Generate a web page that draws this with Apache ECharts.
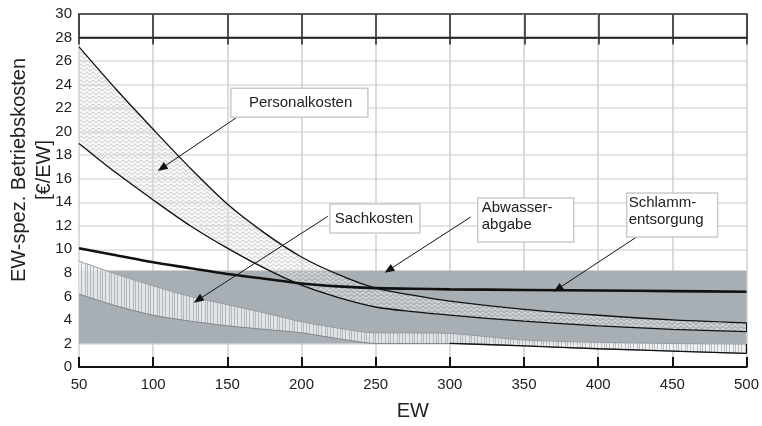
<!DOCTYPE html>
<html>
<head>
<meta charset="utf-8">
<script src="https://cdn.jsdelivr.net/npm/echarts@6/dist/echarts.min.js"></script>
<style>
html, body { margin: 0; padding: 0; background: #fff; }
#main { width: 762px; height: 426px; }
</style>
</head>
<body>
<div id="main"></div>
<script>
// EW (Einwohnerwerte) on the x axis
var ew = [50, 75, 100, 125, 150, 175, 200, 225, 250, 275, 300, 350, 400, 450, 500];
// Personalkosten band (upper / lower bound)
var personalHigh = [27.2, 23.6, 20.2, 16.9, 13.85, 11.4, 9.35, 7.85, 6.7, 6.1, 5.6, 4.9, 4.4, 4.0, 3.75];
var personalLow = [19.0, 16.5, 14.2, 12.0, 10.1, 8.4, 6.95, 5.9, 5.1, 4.7, 4.4, 3.9, 3.5, 3.2, 3.0];
// Schlammentsorgung
var schlamm = [10.1, 9.5, 8.9, 8.4, 7.9, 7.5, 7.1, 6.85, 6.7, 6.65, 6.6, 6.55, 6.5, 6.45, 6.4];
// Sachkosten band
var sachHigh = [9.0, 7.9, 6.9, 6.0, 5.3, 4.6, 3.85, 3.3, 2.9, 2.9, 2.85, 2.3, 2.1, 2.0, 1.95];
var sachLow = [6.2, 5.2, 4.4, 3.9, 3.5, 3.2, 2.9, 2.4, 2.0, 2.0, 2.0, 1.8, 1.55, 1.35, 1.15];
// Abwasserabgabe band
var abwasserEW = [50, 500];
var abwasserLow = [2.0, 2.0];
var abwasserHigh = [8.2, 8.2];
// axis ticks
var xTicks = { min: 50, max: 500, step: 50 };
var yTicks = { min: 0, max: 30, step: 2 };

// callouts (box corner and arrow in data units)
var notes = [
  { text: 'Personalkosten', box: [152.4, 23.7], w: 137, h: 29, from: [158.5, 21.4], to: [105.9, 16.9], pad: 18 },
  { text: 'Sachkosten', box: [219.1, 13.85], w: 90, h: 29, from: [217.7, 12.8], to: [130.2, 5.7], pad: 5 },
  { text: 'Abwasser-\nabgabe', box: [318.8, 14.36], w: 96, h: 44, from: [314.1, 12.75], to: [258.8, 8.24], pad: 4 },
  { text: 'Schlamm-\nentsorgung', box: [419.2, 14.79], w: 91, h: 44, from: [425.9, 11.05], to: [372.7, 6.63], pad: 2 }
];

var FONT = '"Liberation Sans", Arial, sans-serif';

function pairs(xs, ys) {
  return xs.map(function (x, i) { return [x, ys[i]]; });
}

// fill patterns
function herringbone() {
  var c = document.createElement('canvas');
  c.width = 12; c.height = 8;
  var g = c.getContext('2d');
  g.strokeStyle = '#d8d8d8';
  g.lineWidth = 1.3;
  g.beginPath();
  for (var y = -4; y < 12; y += 4) {
    g.moveTo(0, y + 3); g.lineTo(3, y); g.lineTo(6, y + 3); g.lineTo(9, y); g.lineTo(12, y + 3);
  }
  g.stroke();
  return c;
}
function stripes() {
  var c = document.createElement('canvas');
  c.width = 24; c.height = 4;
  var g = c.getContext('2d');
  g.fillStyle = 'rgba(236,238,240,0.85)';
  g.fillRect(0, 0, 24, 4);
  g.fillStyle = 'rgba(140,146,152,0.55)';
  [1, 4, 6, 9, 13, 15, 18, 21].forEach(function (x) { g.fillRect(x, 0, 1, 4); });
  return c;
}

// a filled band between two curves, drawn through the axis scales
function band(xs, hi, lo, fill, z) {
  return {
    type: 'custom', data: [0], z: z, silent: true, clip: true,
    renderItem: function (params, api) {
      var pts = [];
      xs.forEach(function (x, i) { pts.push(api.coord([x, hi[i]])); });
      for (var i = xs.length - 1; i >= 0; i--) pts.push(api.coord([xs[i], lo[i]]));
      return { type: 'polygon', shape: { points: pts }, style: { fill: fill } };
    }
  };
}
function curve(xs, ys, color, width, z) {
  return { type: 'line', data: pairs(xs, ys), symbol: 'none', smooth: 0.3,
    lineStyle: { color: color, width: width }, z: z, silent: true };
}

var yCount = (yTicks.max - yTicks.min) / yTicks.step + 1;
var yGridColors = [];
for (var i = 0; i < yCount; i++) {
  yGridColors.push(i === 0 || i >= yCount - 2 ? 'rgba(0,0,0,0)' : '#dcdcdc');
}

var tailEW = ew.filter(function (x) { return x >= 300; });
var tailSach = sachLow.slice(ew.length - tailEW.length);
var last = ew.length - 1;

var myChart = echarts.init(document.getElementById('main'));
myChart.setOption({
  animation: false,
  backgroundColor: '#fff',
  grid: [
    { left: 79, right: 15, top: 14, bottom: 59 },
    { left: 79, right: 15, top: 14, height: 23.5, show: true, borderColor: '#222', borderWidth: 1.5 }
  ],
  xAxis: [{
    type: 'value', min: xTicks.min, max: xTicks.max, interval: xTicks.step,
    name: 'EW', nameLocation: 'middle', nameGap: 34,
    nameTextStyle: { fontFamily: FONT, fontSize: 20, color: '#222' },
    axisLine: { lineStyle: { color: '#111', width: 2 } },
    axisTick: { inside: true, length: 10, lineStyle: { color: '#111', width: 2 } },
    axisLabel: { fontFamily: FONT, fontSize: 15, color: '#222', margin: 10 },
    splitLine: { lineStyle: { color: '#cfcfcf', width: 1.5 } }
  }, {
    type: 'value', gridIndex: 1, min: xTicks.min, max: xTicks.max, interval: xTicks.step, z: 5,
    axisLine: { lineStyle: { color: '#222', width: 1.5 } },
    axisTick: { length: 7, lineStyle: { color: '#222', width: 1.5 } },
    axisLabel: { show: false },
    splitLine: { lineStyle: { color: '#222', width: 1.5 } }
  }],
  yAxis: [{
    type: 'value', min: yTicks.min, max: yTicks.max, interval: yTicks.step,
    axisLine: { show: false }, axisTick: { show: false },
    axisLabel: { fontFamily: FONT, fontSize: 15, color: '#222', margin: 7 },
    splitLine: { lineStyle: { color: yGridColors, width: 1.5 } }
  }, {
    type: 'value', gridIndex: 1, min: 0, max: 1, show: false
  }],
  series: [
    band(abwasserEW, abwasserHigh, abwasserLow, '#a8afb4', 1),
    band(ew, sachHigh, sachLow, { image: stripes(), repeat: 'repeat' }, 2),
    band(ew, personalHigh, personalLow, { image: herringbone(), repeat: 'repeat' }, 3),
    curve(ew, sachHigh, '#959ba0', 1, 2),
    curve(ew, sachLow, '#7f868b', 1, 2),
    curve(ew, personalHigh, '#111', 1.3, 4),
    curve(ew, personalLow, '#111', 1.3, 4),
    curve(ew, schlamm, '#111', 2.6, 4),
    curve(tailEW, tailSach, '#111', 1.3, 4),
    // arrows + end caps
    { type: 'line', data: [], z: 6,
      markLine: {
        silent: true, animation: false,
        label: { show: false },
        symbol: ['none', 'triangle'], symbolSize: [8, 10],
        lineStyle: { color: '#111', width: 1, type: 'solid' },
        data: notes.map(function (n) {
          return [{ coord: n.from }, { coord: n.to }];
        }).concat([
          [{ coord: [ew[last], personalLow[last]], symbol: 'none' }, { coord: [ew[last], personalHigh[last]], symbol: 'none' }],
          [{ coord: [ew[last], sachLow[last]], symbol: 'none' }, { coord: [ew[last], sachHigh[last]], symbol: 'none' }]
        ])
      }
    }
  ]
});

// callout boxes and y axis title
var graphics = [{
  type: 'text', x: 32, y: 170, rotation: Math.PI / 2,
  style: {
    text: 'EW-spez. Betriebskosten\n[€/EW]', fontFamily: FONT, fontSize: 20, lineHeight: 25,
    fill: '#222', align: 'center', verticalAlign: 'middle'
  }
}];
notes.forEach(function (n) {
  var p = myChart.convertToPixel({ gridIndex: 0 }, n.box);
  var multi = n.text.indexOf('\n') >= 0;
  graphics.push({
    type: 'rect', z: 10,
    shape: { x: p[0], y: p[1], width: n.w, height: n.h },
    style: { fill: '#fff', stroke: '#cbcbcb', lineWidth: 1.5 }
  });
  graphics.push({
    type: 'text', z: 11,
    x: p[0] + n.pad, y: multi ? p[1] + 1 : p[1] + n.h / 2,
    style: {
      text: n.text, fontFamily: FONT, fontSize: 15, lineHeight: 17.5, fill: '#222',
      align: 'left', verticalAlign: multi ? 'top' : 'middle'
    }
  });
});
myChart.setOption({ graphic: graphics });
</script>
</body>
</html>
